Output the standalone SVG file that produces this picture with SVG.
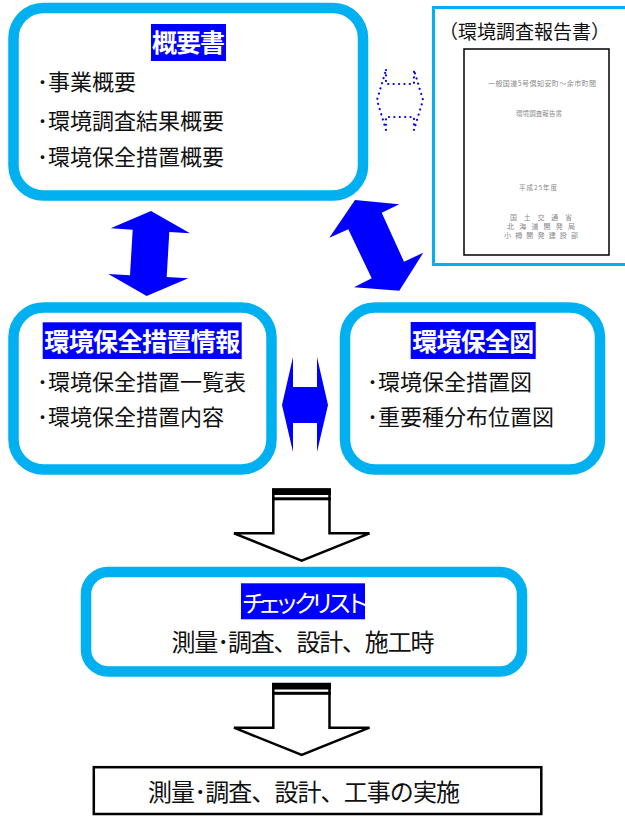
<svg xmlns="http://www.w3.org/2000/svg" width="625" height="816" viewBox="0 0 625 816">
<defs>
<style>
.box{fill:#fff;stroke:#00b0f0;stroke-width:10.5}
.tbg{fill:#0000ff}
.ttl{font-family:"Noto Sans CJK JP","Noto Sans",sans-serif;font-weight:bold;font-size:25px;fill:#fff;text-anchor:middle}
.itm{font-family:"Noto Sans CJK JP","Noto Sans",sans-serif;font-size:22px;fill:#111}
.big{font-family:"Noto Sans CJK JP","Noto Sans",sans-serif;font-size:24px;fill:#111;text-anchor:middle}
.tiny{font-family:"Noto Sans CJK JP","Noto Sans",sans-serif;fill:#8a8a8a;text-anchor:middle}
.kana{font-family:"Noto Sans CJK JP","Noto Sans",sans-serif;font-size:24px;fill:#fff}
.blue{fill:#0000ff;stroke:none}
.blk{fill:#fff;stroke:#000;stroke-width:2.5;stroke-linejoin:miter}
</style>
</defs>
<rect width="625" height="816" fill="#fff"/>

<g id="node-summary">
<rect class="box" x="13.5" y="8" width="349.5" height="187.5" rx="30"/>
<rect class="tbg" x="151" y="24" width="75" height="37"/>
<text class="ttl" x="188.5" y="52" textLength="73">概要書</text>
<text class="itm" x="37" y="90">･事業概要</text>
<text class="itm" x="37" y="128.5">･環境調査結果概要</text>
<text class="itm" x="37" y="165">･環境保全措置概要</text>
</g>

<g id="node-report">
<rect x="433.5" y="7.5" width="200" height="257" fill="#fff" stroke="#00b0f0" stroke-width="3"/>
<text x="439" y="39" font-family="Noto Sans CJK JP, sans-serif" font-size="19" fill="#111">（環境調査報告書）</text>
<rect x="464" y="49" width="145" height="206" fill="#fff" stroke="#000" stroke-width="1.5"/>
<text class="tiny" x="542" y="86" font-size="7" textLength="108">一般国道5号倶知安町～余市町間</text>
<text class="tiny" x="539" y="115.5" font-size="6.5" textLength="46">環境調査報告書</text>
<text class="tiny" x="538" y="189.5" font-size="6.5" textLength="38">平成25年度</text>
<text class="tiny" x="541" y="219.5" font-size="7" textLength="62">国土交通省</text>
<text class="tiny" x="541" y="228.5" font-size="7" textLength="68">北海道開発局</text>
<text class="tiny" x="541" y="237.5" font-size="7" textLength="74">小樽開発建設部</text>
</g>

<g id="node-measures">
<rect class="box" x="13.5" y="307.5" width="258" height="162" rx="30"/>
<rect class="tbg" x="42.7" y="322.3" width="199" height="36.7"/>
<text class="ttl" x="142.2" y="350.5" textLength="196">環境保全措置情報</text>
<text class="itm" x="37" y="389.7">･環境保全措置一覧表</text>
<text class="itm" x="37" y="425">･環境保全措置内容</text>
</g>

<g id="node-map">
<rect class="box" x="345" y="307.5" width="255" height="162" rx="30"/>
<rect class="tbg" x="410.7" y="322" width="125" height="37"/>
<text class="ttl" x="473.2" y="350.5" textLength="122">環境保全図</text>
<text class="itm" x="367" y="389.7">･環境保全措置図</text>
<text class="itm" x="367" y="425">･重要種分布位置図</text>
</g>

<g id="node-checklist">
<rect class="box" x="86" y="572" width="436" height="99.5" rx="22"/>
<rect class="tbg" x="241" y="583.3" width="124" height="36"/>
<text class="kana" x="241.8 257.7 274.7 293.8 310.5 327.7 345.2" y="611.5">チェックリスト</text>
<text class="big" x="303" y="650.5" textLength="263">測量･調査、設計、施工時</text>
</g>

<g id="node-implementation">
<rect x="93.8" y="767.2" width="447.5" height="46.8" fill="#fff" stroke="#000" stroke-width="2.5"/>
<text class="big" x="304" y="800.8" textLength="312">測量･調査、設計、工事の実施</text>
</g>

<g id="connectors">
<path class="blue" d="M151,211 L190,233.3 L169.3,232 L166.7,277.1 L188.3,278.3 L146.7,296 L108.3,274 L130,275.2 L132.7,229.7 L110.7,228.3 Z"/>
<path class="blue" d="M355,200 L399.3,204.3 L381.7,212.7 L404,261.7 L423.3,252.7 L399.3,290.7 L354,287.3 L371.7,278.3 L348.3,229.3 L329.3,237.7 Z"/>
<path class="blue" d="M282,405 L293,357 L293,387 L317,387 L317,357 L328,405 L317,452 L317,423 L293,423 L293,452 Z"/>
<path d="M386,70 L386,84 L414,84 L414,70 L423,100 L414,130 L414,117 L386,117 L386,130 L377,100 Z" fill="none" stroke="#0000ff" stroke-width="2.2" stroke-linecap="round" stroke-dasharray="0.1 5.3"/>
<path class="blk" d="M273.3,489.5 L329.5,489.5 L329.5,533.3 L369.5,533.3 L301.7,560.7 L234,533.3 L273.3,533.3 Z"/>
<rect x="272" y="488.5" width="59" height="6.5" fill="#000"/>
<rect x="272" y="497.3" width="59" height="3" fill="#000"/>
<path class="blk" d="M273.3,684 L329.5,684 L329.5,727.7 L369.5,727.7 L301.7,755 L234,727.7 L273.3,727.7 Z"/>
<rect x="272" y="683" width="59" height="6.5" fill="#000"/>
<rect x="272" y="691.8" width="59" height="3" fill="#000"/>
</g>
</svg>
